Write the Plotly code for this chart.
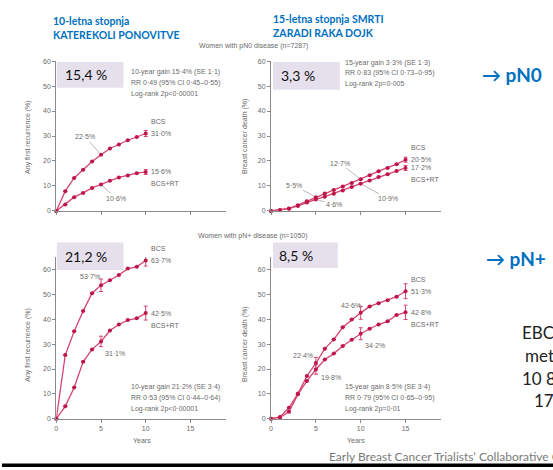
import plotly.graph_objects as go

W, H = 553, 470

years10 = list(range(11))
years15 = list(range(16))

# pN0 - any first recurrence (10 years)
pn0_rec_bcs = [0, 7.9, 13.2, 16.5, 19.8, 22.5, 25.0, 26.6, 28.3, 29.6, 31.0]
pn0_rec_rt = [0, 2.6, 5.5, 7.2, 9.2, 10.6, 12.1, 13.4, 14.2, 15.1, 15.6]
pn0_rec_bcs_err = [None] * 10 + [1.2]
pn0_rec_rt_err = [None] * 10 + [1.0]

# pN0 - breast cancer death (15 years)
pn0_death_bcs = [0, 0.4, 1.0, 2.3, 3.9, 5.5, 7.0, 8.4, 9.8, 11.2, 12.7, 14.3, 15.9, 17.2, 18.7, 20.5]
pn0_death_rt = [0, 0.3, 0.9, 2.0, 3.4, 4.6, 5.7, 6.9, 8.2, 9.6, 10.9, 12.2, 13.6, 14.7, 16.0, 17.2]
pn0_death_bcs_err = [None] * 15 + [1.0]
pn0_death_rt_err = [None] * 15 + [1.0]

# pN+ - any first recurrence (10 years)
pnp_rec_bcs = [0, 25.6, 35.2, 43.3, 50.5, 53.7, 55.7, 57.8, 60.4, 61.1, 63.7]
pnp_rec_rt = [0, 5.0, 12.6, 22.9, 27.9, 31.1, 35.5, 37.9, 39.7, 40.4, 42.5]
pnp_rec_bcs_err = [None] * 5 + [2.5] + [None] * 4 + [2.3]
pnp_rec_rt_err = [None] * 5 + [2.1] + [None] * 4 + [2.8]

# pN+ - breast cancer death (15 years)
pnp_death_bcs = [0, 0.7, 4.4, 10.1, 17.2, 22.4, 28.2, 31.9, 36.8, 39.9, 42.6, 45.2, 46.5, 47.7, 49.1, 51.3]
pnp_death_rt = [0, 0.5, 2.8, 9.8, 15.2, 19.8, 23.8, 26.2, 29.3, 31.8, 34.2, 36.2, 37.9, 39.2, 41.7, 42.8]
pnp_death_bcs_err = [None] * 5 + [2.3] + [None] * 4 + [2.6] + [None] * 4 + [3.0]
pnp_death_rt_err = [None] * 5 + [1.9] + [None] * 4 + [2.4] + [None] * 4 + [2.9]

y_ticks = [0, 10, 20, 30, 40, 50, 60]
x_ticks = [0, 5, 10, 15]

gain_texts = ["15,4 %", "3,3 %", "21,2 %", "8,5 %"]
stats_tl = ["10-year gain 15·4% (SE 1·1)", "RR 0·49 (95% CI 0·45–0·55)", "Log-rank 2p<0·00001"]
stats_tr = ["15-year gain 3·3% (SE 1·3)", "RR 0·83 (95% CI 0·73–0·95)", "Log-rank 2p=0·005"]
stats_bl = ["10-year gain 21·2% (SE 3·4)", "RR 0·53 (95% CI 0·44–0·64)", "Log-rank 2p<0·00001"]
stats_br = ["15-year gain 8·5% (SE 3·4)", "RR 0·79 (95% CI 0·65–0·95)", "Log-rank 2p=0·01"]
side_lines = ["EBC", "met", "10 8", "17"]

LINE = "#d4466f"
MARK = "#bf1548"
GRAY = "#6a6a6a"
AX = "#8a8a8a"
BLUE = "#0070C0"
SMALL = "Liberation Sans, Arial, sans-serif"
SLIDE = "Lato, Calibri, sans-serif"


def X(px):
    return px / W


def Y(py):
    return 1 - py / H


fig = go.Figure()

panels = [
    ("x", "y", years10, pn0_rec_bcs, pn0_rec_rt, pn0_rec_bcs_err, pn0_rec_rt_err),
    ("x2", "y2", years15, pn0_death_bcs, pn0_death_rt, pn0_death_bcs_err, pn0_death_rt_err),
    ("x3", "y3", years10, pnp_rec_bcs, pnp_rec_rt, pnp_rec_bcs_err, pnp_rec_rt_err),
    ("x4", "y4", years15, pnp_death_bcs, pnp_death_rt, pnp_death_bcs_err, pnp_death_rt_err),
]

for xa, ya, yrs, bcs, rt, eb, er in panels:
    for vals, err in ((bcs, eb), (rt, er)):
        fig.add_trace(go.Scatter(
            x=yrs, y=vals, xaxis=xa, yaxis=ya, mode="lines+markers",
            line=dict(color=LINE, width=1.3),
            marker=dict(color=MARK, size=4),
            error_y=dict(type="data", array=err, color=LINE, thickness=1, width=2),
            cliponaxis=False, showlegend=False, hoverinfo="skip"))

axis_common = dict(showgrid=False, zeroline=False, showline=True, linecolor=AX, linewidth=1,
                   ticks="outside", ticklen=3, tickcolor=AX, tickwidth=1,
                   tickfont=dict(family=SMALL, size=7, color=GRAY))

top_dom = [Y(210), Y(58)]
bot_dom = [Y(421), Y(257)]
left_dom = [X(54.5), X(225)]
right_dom = [X(270), X(441)]

fig.update_layout(
    width=W, height=H, margin=dict(l=0, r=0, t=0, b=0),
    paper_bgcolor="white", plot_bgcolor="white",
    xaxis=dict(domain=left_dom, range=[0, 19], tickvals=x_ticks, showticklabels=False, anchor="y", **axis_common),
    yaxis=dict(domain=top_dom, range=[0, 60], tickvals=y_ticks, anchor="x", **axis_common),
    xaxis2=dict(domain=right_dom, range=[0, 19], tickvals=x_ticks, showticklabels=False, anchor="y2", **axis_common),
    yaxis2=dict(domain=top_dom, range=[0, 60], tickvals=y_ticks, anchor="x2", **axis_common),
    xaxis3=dict(domain=left_dom, range=[0, 19], tickvals=x_ticks, anchor="y3", **axis_common),
    yaxis3=dict(domain=bot_dom, range=[0, 65], tickvals=y_ticks, anchor="x3", **axis_common),
    xaxis4=dict(domain=right_dom, range=[0, 19], tickvals=x_ticks, anchor="y4", **axis_common),
    yaxis4=dict(domain=bot_dom, range=[0, 65], tickvals=y_ticks, anchor="x4", **axis_common),
)

ann = []


def ptext(px, py, text, size=7, color=GRAY, family=SMALL, xanchor="left", bold=False, angle=0):
    if bold:
        text = "<b>" + text + "</b>"
    ann.append(dict(x=X(px), y=Y(py), xref="paper", yref="paper", text=text, showarrow=False,
                    xanchor=xanchor, yanchor="middle", textangle=angle, borderpad=0,
                    font=dict(size=size, color=color, family=family)))


# headers
ptext(50, 17, "10-letna stopnja", size=10.5, color=BLUE, family=SLIDE, bold=True)
ptext(50, 31, "KATEREKOLI PONOVITVE", size=10.5, color=BLUE, family=SLIDE, bold=True)
ptext(271, 15, "15-letna stopnja SMRTI", size=10.5, color=BLUE, family=SLIDE, bold=True)
ptext(271, 29, "ZARADI RAKA DOJK", size=10.5, color=BLUE, family=SLIDE, bold=True)
ptext(252, 43, "Women with pN0 disease (n=7287)", size=7, xanchor="center")
ptext(252, 235, "Women with pN+ disease (n=1050)", size=7, xanchor="center")

# y-axis titles and x-axis titles
ptext(26, 135, "Any first recurrence (%)", size=7, xanchor="center", angle=-90)
ptext(26, 346, "Any first recurrence (%)", size=7, xanchor="center", angle=-90)
ptext(244, 135, "Breast cancer death (%)", size=7, xanchor="center", angle=-90)
ptext(244, 346, "Breast cancer death (%)", size=7, xanchor="center", angle=-90)
ptext(141, 443, "Years", size=7, xanchor="center")
ptext(355, 443, "Years", size=7, xanchor="center")

# statistics
for i, t in enumerate(stats_tl):
    ptext(128, 69 + 11 * i, t)
for i, t in enumerate(stats_tr):
    ptext(343, 60 + 10.5 * i, t)
for i, t in enumerate(stats_bl):
    ptext(128, 389 + 11 * i, t)
for i, t in enumerate(stats_br):
    ptext(343, 389 + 11 * i, t)

# side texts
ptext(481, 72, "→ pN0", size=19, color=BLUE, family=SLIDE, bold=True)
ptext(485, 258, "→ pN+", size=19, color=BLUE, family=SLIDE, bold=True)
for (px, py), t in zip([(521, 333), (524, 357), (521, 380), (533, 403)], side_lines):
    ptext(px, py, t, size=17, color="#222222", family=SLIDE)
ptext(327, 459, "Early Breast Cancer Trialists’ Collaborative Group", size=12, color="#7a7a7a", family=SLIDE)


def dlabel(xa, ya, x, y, text, xshift=0, yshift=0, xanchor="center"):
    ann.append(dict(x=x, y=y, xref=xa, yref=ya, text=text, showarrow=False, xanchor=xanchor,
                    yanchor="middle", xshift=xshift, yshift=yshift, borderpad=0,
                    font=dict(size=7, color=GRAY, family=SMALL)))


def leader(xa, ya, x, y, text, ax, ay):
    ann.append(dict(x=x, y=y, xref=xa, yref=ya, text=text, showarrow=True, arrowhead=0,
                    arrowwidth=0.7, arrowcolor="#999999", ax=ax, ay=ay, standoff=2,
                    font=dict(size=7, color=GRAY, family=SMALL)))


# end labels
ends = [
    ("x", "y", years10, pn0_rec_bcs, pn0_rec_rt, "31·0%", "15·6%"),
    ("x2", "y2", years15, pn0_death_bcs, pn0_death_rt, "20·5%", "17·2%"),
    ("x3", "y3", years10, pnp_rec_bcs, pnp_rec_rt, "63·7%", "42·5%"),
    ("x4", "y4", years15, pnp_death_bcs, pnp_death_rt, "51·3%", "42·8%"),
]
for xa, ya, yrs, bcs, rt, tb, tr in ends:
    dlabel(xa, ya, yrs[-1], bcs[-1], "BCS", xshift=4, yshift=12, xanchor="left")
    dlabel(xa, ya, yrs[-1], bcs[-1], tb, xshift=4, xanchor="left")
    dlabel(xa, ya, yrs[-1], rt[-1], tr, xshift=4, xanchor="left")
    dlabel(xa, ya, yrs[-1], rt[-1], "BCS+RT", xshift=4, yshift=-12, xanchor="left")

# mid labels
leader("x", "y", 5, pn0_rec_bcs[5], "22·5%", -16, -18)
leader("x", "y", 5, pn0_rec_rt[5], "10·6%", 15, 14)
leader("x2", "y2", 10, pn0_death_bcs[10], "12·7%", -21, -16)
leader("x2", "y2", 10, pn0_death_rt[10], "10·9%", 27, 15)
leader("x2", "y2", 5, pn0_death_bcs[5], "5·5%", -22, -12)
leader("x2", "y2", 5, pn0_death_rt[5], "4·6%", 18, 5)
dlabel("x3", "y3", 5, pnp_rec_bcs[5], "53·7%", xshift=-11, yshift=9)
dlabel("x3", "y3", 5, pnp_rec_rt[5], "31·1%", xshift=14, yshift=-12)
dlabel("x4", "y4", 10, pnp_death_bcs[10], "42·6%", xshift=-10, yshift=7)
dlabel("x4", "y4", 10, pnp_death_rt[10], "34·2%", xshift=14, yshift=-12)
dlabel("x4", "y4", 5, pnp_death_bcs[5], "22·4%", xshift=-13, yshift=8)
dlabel("x4", "y4", 5, pnp_death_rt[5], "19·8%", xshift=15, yshift=-8)

# gain boxes
boxes = [(55, 59, 122, 85), (272, 59, 339, 87), (55, 242, 122, 270), (272, 242, 337, 268)]
box_text_x = [62, 279, 62, 277]
shapes = []
for (x0, y0, x1, y1), tx, t in zip(boxes, box_text_x, gain_texts):
    shapes.append(dict(type="rect", xref="paper", yref="paper", x0=X(x0), x1=X(x1), y0=Y(y1), y1=Y(y0),
                       fillcolor="#e6e0ec", line=dict(width=0), layer="above"))
    ptext(tx, (y0 + y1) / 2, t, size=14, color="#111111", family=SLIDE)

shapes.append(dict(type="rect", xref="paper", yref="paper", x0=0, x1=1, y0=0, y1=Y(466.5),
                   fillcolor="black", line=dict(width=0)))

fig.update_layout(annotations=ann, shapes=shapes)
fig.write_html("out.html", config={"displayModeBar": False},
               post_script="document.body.style.margin='0';document.body.style.overflow='hidden';")
